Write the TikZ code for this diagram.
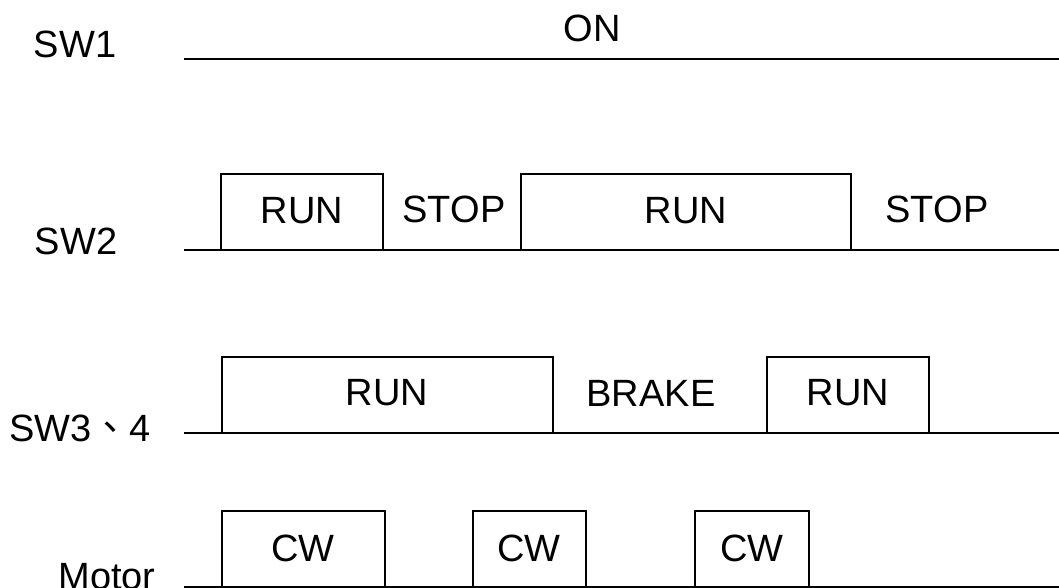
\documentclass[tikz,border=0pt]{standalone}
\usepackage{fontspec}
\setmainfont{Liberation Sans}
\newfontfamily\cjk{Noto Sans CJK TC}
\begin{document}
\begin{tikzpicture}[x=0.5pt,y=-0.5pt,
	lbl/.style={font=\fontsize{19}{19}\selectfont, inner sep=0pt},
	sig/.style={line width=1pt}]
	\useasboundingbox (0,0) rectangle (1059,588);
	% signal names
	\node	(sw1) at (75,44) [lbl] {SW1};
	\node	(sw2) at (76,241) [lbl] {SW2};
	\node	(sw34) at (80,428) [lbl] {SW3{\cjk 、}4};
	\node	(mot) at (107,577) [lbl] {Motor};
	% states
	\node	(on) at (592,28) [lbl] {ON};
	\node	(run1) at (302,211) [lbl] {RUN};
	\node	(stop1) at (454,209) [lbl] {STOP};
	\node	(run2) at (686,211) [lbl] {RUN};
	\node	(stop2) at (937,209) [lbl] {STOP};
	\node	(run3) at (387,393) [lbl] {RUN};
	\node	(brk) at (651,393) [lbl] {BRAKE};
	\node	(run4) at (848,393) [lbl] {RUN};
	\node	(cw1) at (303,548) [lbl] {CW};
	\node	(cw2) at (529,548) [lbl] {CW};
	\node	(cw3) at (752,548) [lbl] {CW};
	% base lines
	\draw[sig] (184,59) -- (1059,59);
	\draw[sig] (184,250) -- (1059,250);
	\draw[sig] (184,433) -- (1059,433);
	\draw[sig] (184,587) -- (1059,587);
	% pulses
	\draw[sig] (221,250) |- (383,174) -- (383,250);
	\draw[sig] (521,250) |- (851,174) -- (851,250);
	\draw[sig] (222,433) |- (553,357) -- (553,433);
	\draw[sig] (767,433) |- (929,357) -- (929,433);
	\draw[sig] (222,587) |- (385,511) -- (385,587);
	\draw[sig] (473,587) |- (586,511) -- (586,587);
	\draw[sig] (695,587) |- (809,511) -- (809,587);
\end{tikzpicture}
\end{document}
